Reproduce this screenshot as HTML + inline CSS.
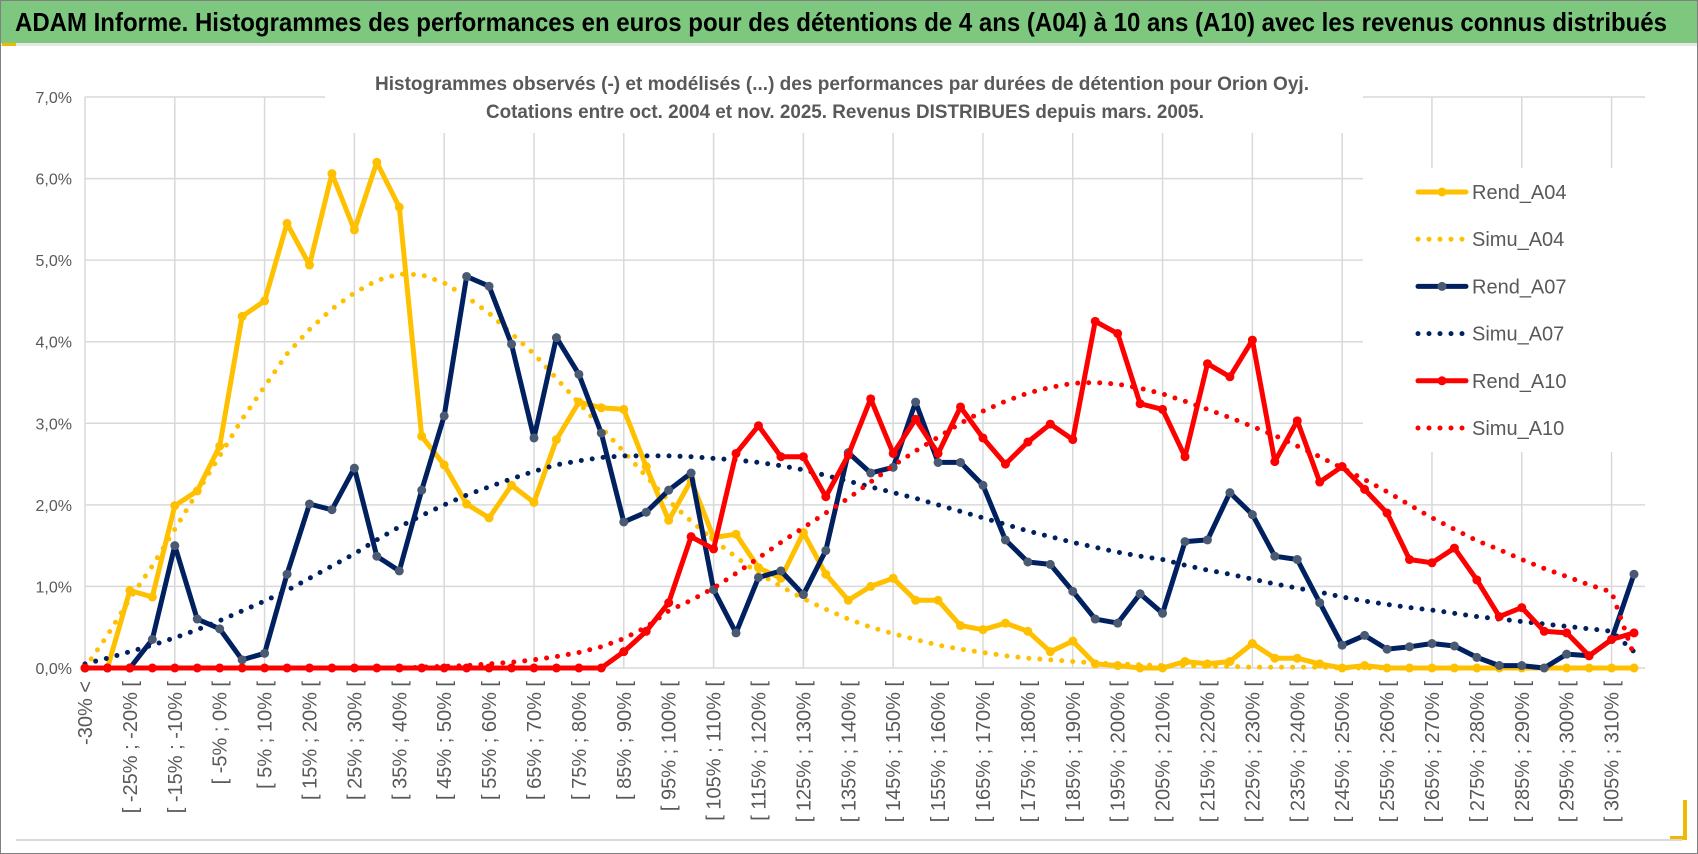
<!DOCTYPE html>
<html><head><meta charset="utf-8"><style>
html,body{margin:0;padding:0;background:#fff;}
svg{display:block;font-family:"Liberation Sans",sans-serif;}
</style></head><body>
<svg id="chart" width="1698" height="854" viewBox="0 0 1698 854">
<rect x="0" y="0" width="1698" height="854" fill="#fff"/>
<rect x="0" y="0" width="1698" height="43" fill="#7dc87e"/>
<rect x="0" y="43" width="1698" height="3" fill="#e6e6e6"/>
<text x="15" y="31" font-size="26" font-weight="bold" fill="#000" textLength="1652" lengthAdjust="spacingAndGlyphs">ADAM Informe. Histogrammes des performances en euros pour des détentions de 4 ans (A04) à 10 ans (A10) avec les revenus connus distribués</text>
<rect x="0.5" y="0.5" width="1697" height="853" fill="none" stroke="#808080" stroke-width="1"/>
<rect x="2" y="43" width="14" height="3" fill="#f0b800"/>
<rect x="1683" y="800" width="4" height="40" fill="#f0b800"/>
<rect x="1670" y="836" width="17" height="4" fill="#f0b800"/>
<line x1="16" y1="840" x2="1682" y2="840" stroke="#d9d9d9" stroke-width="2"/>
<g id="grid"></g>
<rect x="325" y="60" width="1038" height="73" fill="#fff"/>
<text x="842" y="90" font-size="19" font-weight="bold" fill="#595959" text-anchor="middle" textLength="934" lengthAdjust="spacingAndGlyphs">Histogrammes observés (-) et modélisés (...) des performances par durées de détention pour Orion Oyj.</text>
<text x="845" y="118" font-size="19" font-weight="bold" fill="#595959" text-anchor="middle" textLength="718" lengthAdjust="spacingAndGlyphs">Cotations entre oct. 2004 et nov. 2025. Revenus DISTRIBUES depuis mars. 2005.</text>
<g id="yaxis"></g>
<g id="xaxis"></g>
<g id="series"></g>
<rect x="1363" y="168" width="320" height="284" fill="#fff"/>
<g id="legend"></g>
</svg>
<script>
const yTicks = [0,1,2,3,4,5,6,7];
const yTickLabels = ["0,0%","1,0%","2,0%","3,0%","4,0%","5,0%","6,0%","7,0%"];
const rendA04 = [0,0,0.95,0.87,1.99,2.17,2.72,4.31,4.5,5.45,4.94,6.06,5.37,6.2,5.65,2.84,2.49,2.01,1.84,2.24,2.03,2.8,3.26,3.19,3.17,2.47,1.81,2.3,1.6,1.64,1.23,1.1,1.66,1.15,0.83,1.0,1.1,0.83,0.83,0.52,0.47,0.55,0.45,0.2,0.33,0.05,0.03,0,0,0.08,0.05,0.08,0.3,0.12,0.12,0.05,0,0.03,0,0,0,0,0,0,0,0,0,0,0,0];
const simuA04 = [0,0.4,0.85,1.25,1.7,2.15,2.6,3.05,3.45,3.85,4.15,4.4,4.6,4.75,4.83,4.82,4.72,4.55,4.35,4.1,3.85,3.55,3.25,2.95,2.65,2.35,2.05,1.8,1.57,1.36,1.16,1.0,0.85,0.72,0.6,0.5,0.42,0.35,0.28,0.23,0.19,0.15,0.12,0.1,0.08,0.06,0.05,0.04,0.03,0.03,0.02,0.02,0.01,0.01,0.01,0.01,0,0,0,0,0,0,0,0,0,0,0,0,0,0];
const rendA07 = [0,0,0,0.35,1.5,0.6,0.48,0.1,0.18,1.15,2.01,1.94,2.45,1.37,1.19,2.18,3.09,4.8,4.68,3.97,2.82,4.05,3.6,2.88,1.79,1.91,2.18,2.39,0.96,0.43,1.11,1.19,0.9,1.44,2.64,2.39,2.46,3.26,2.52,2.52,2.24,1.57,1.3,1.27,0.94,0.6,0.55,0.91,0.67,1.55,1.57,2.15,1.88,1.37,1.33,0.8,0.28,0.4,0.23,0.26,0.3,0.27,0.13,0.03,0.03,0,0.17,0.15,0.35,1.15];
const simuA07 = [0.05,0.12,0.2,0.28,0.37,0.47,0.58,0.7,0.82,0.95,1.1,1.25,1.4,1.57,1.73,1.87,2.0,2.12,2.22,2.32,2.41,2.49,2.54,2.58,2.6,2.6,2.6,2.59,2.57,2.55,2.52,2.48,2.43,2.36,2.29,2.22,2.15,2.08,2.0,1.92,1.84,1.76,1.68,1.61,1.54,1.48,1.42,1.37,1.33,1.26,1.2,1.15,1.09,1.03,0.98,0.93,0.87,0.82,0.78,0.74,0.71,0.67,0.63,0.6,0.57,0.54,0.51,0.48,0.45,0.2];
const rendA10 = [0,0,0,0,0,0,0,0,0,0,0,0,0,0,0,0,0,0,0,0,0,0,0,0,0.2,0.45,0.8,1.61,1.46,2.63,2.97,2.59,2.59,2.1,2.61,3.3,2.63,3.05,2.63,3.2,2.82,2.5,2.77,2.99,2.8,4.25,4.1,3.24,3.17,2.59,3.73,3.57,4.02,2.53,3.03,2.28,2.47,2.19,1.9,1.33,1.29,1.47,1.08,0.63,0.74,0.45,0.43,0.15,0.35,0.43];
const simuA10 = [0,0,0,0,0,0,0,0,0,0,0,0,0,0,0,0.01,0.02,0.03,0.05,0.07,0.1,0.14,0.19,0.26,0.36,0.5,0.7,0.83,0.98,1.16,1.35,1.54,1.72,1.9,2.08,2.28,2.48,2.66,2.83,3.0,3.15,3.27,3.37,3.44,3.49,3.5,3.48,3.43,3.36,3.27,3.17,3.07,2.96,2.85,2.72,2.59,2.45,2.31,2.16,2.0,1.84,1.7,1.56,1.45,1.33,1.22,1.12,1.02,0.93,0.15];
const seriesNames = ["Rend_A04","Simu_A04","Rend_A07","Simu_A07","Rend_A10","Simu_A10"];

const categories = ["-30% <"];
for (let k = 0; k < 68; k++) { const lo = -30 + 5*k; categories.push("[ " + lo + "% ; " + (lo+5) + "% ["); }
categories.push("> 310%");

const NS = "http://www.w3.org/2000/svg";
const X0 = 85, X1 = 1634, Y0 = 668, YMAXPX = 97, YMAX = 7;
const xScale = i => X0 + i * (X1 - X0) / (categories.length - 1);
const yScale = v => Y0 - v * (Y0 - YMAXPX) / YMAX;
function mk(tag, attrs, parent){ const e = document.createElementNS(NS, tag); for (const k in attrs) e.setAttribute(k, attrs[k]); parent.appendChild(e); return e; }

const grid = document.getElementById('grid');
yTicks.forEach(t => {
  const l = mk('line', {x1:X0, x2:1645, y1:yScale(t), y2:yScale(t), stroke:'#d9d9d9', 'stroke-width':1.5}, grid);
  
  
});
for (let i = 0; i < categories.length; i += 4) {
  const l = mk('line', {x1:xScale(i), x2:xScale(i), y1:YMAXPX, y2:Y0, stroke:'#d9d9d9', 'stroke-width':1.5}, grid);
  
  
}
const yax = document.getElementById('yaxis');
yTicks.forEach((t, k) => {
  const tx = mk('text', {x:72, y:yScale(t)+6, 'font-size':16, fill:'#595959', 'text-anchor':'end'}, yax);
  tx.textContent = yTickLabels[k];
  
  
});
const xax = document.getElementById('xaxis');
categories.forEach((c, i) => {
  if (i % 2) return;
  const x = xScale(i) + 7, y = 681;
  const tx = mk('text', {x:x, y:y, 'font-size':20, fill:'#595959', 'text-anchor':'end', transform:'rotate(-90 '+x+' '+y+')'}, xax);
  tx.textContent = c;
  
  
});

const styles = [
  {data:rendA04, color:'#FFC000', marker:'#FFC000', dotted:false},
  {data:simuA04, color:'#FFC000', dotted:true},
  {data:rendA07, color:'#002060', marker:'#4a5a72', dotted:false},
  {data:simuA07, color:'#002060', dotted:true},
  {data:rendA10, color:'#FF0000', marker:'#FF0000', dotted:false},
  {data:simuA10, color:'#FF0000', dotted:true}
];
const sg = document.getElementById('series');
styles.forEach((s, si) => {
  const g = mk('g', {}, sg);
  
  
  const pts = s.data.map((v, i) => xScale(i).toFixed(1) + ',' + yScale(v).toFixed(1)).join(' ');
  const attrs = {points:pts, fill:'none', stroke:s.color, 'stroke-width':5, 'stroke-linejoin':'round', 'stroke-linecap':'round'};
  if (s.dotted) { attrs['stroke-dasharray'] = '0 11'; }
  const pl = mk('polyline', attrs, g);
  
  
  if (!s.dotted) {
    s.data.forEach((v, i) => {
      const c = mk('circle', {cx:xScale(i), cy:yScale(v), r:4.5, fill:s.marker}, g);
      
      
    });
  }
});

const lg = document.getElementById('legend');
styles.forEach((s, si) => {
  const y = 192 + si * 47.2;
  const g = mk('g', {}, lg);
  
  
  const a = {x1:1418, x2:1466, y1:y, y2:y, stroke:s.color, 'stroke-width':5, 'stroke-linecap':'round'};
  if (s.dotted) a['stroke-dasharray'] = '0 11';
  const ln = mk('line', a, g);
  
  
  if (!s.dotted) {
    const c = mk('circle', {cx:1442, cy:y, r:4.5, fill:s.marker}, g);
    
    
  }
  const t = mk('text', {x:1472, y:y+7, 'font-size':20, fill:'#595959'}, g);
  t.textContent = seriesNames[si];
  
  
});
</script>
</body></html>
